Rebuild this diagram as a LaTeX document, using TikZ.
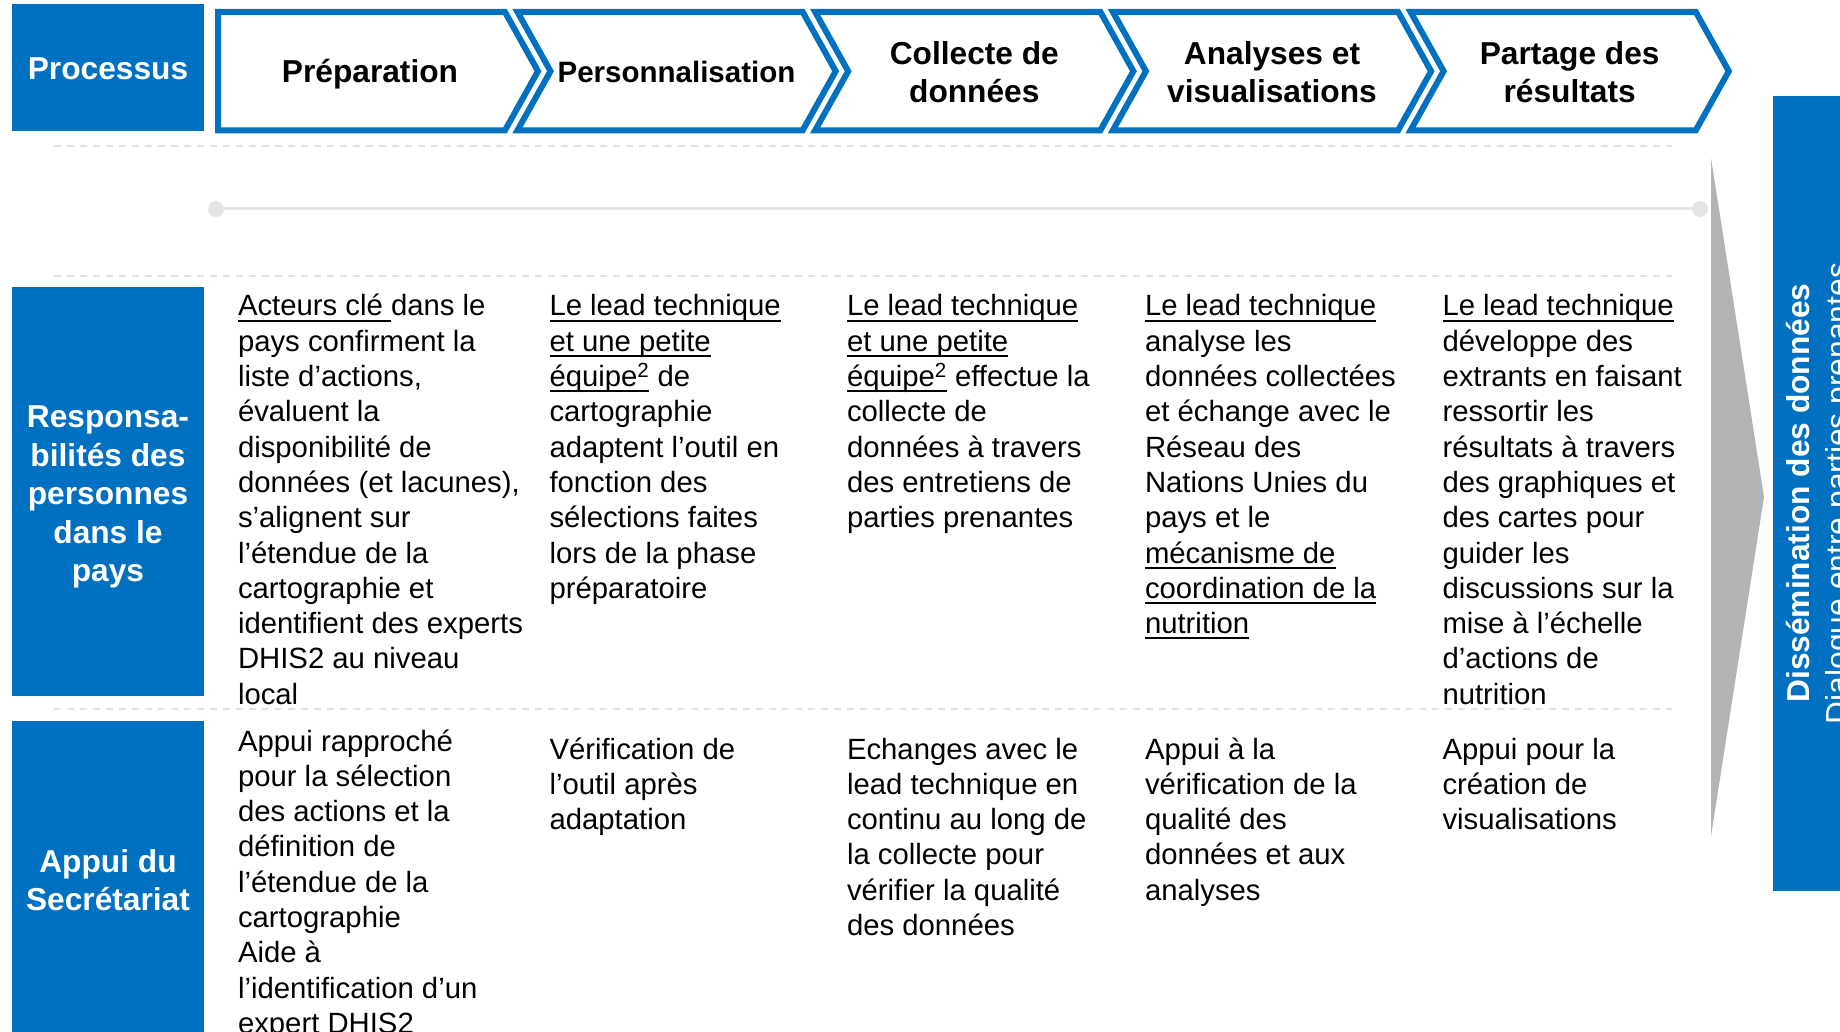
\documentclass[tikz,border=0pt]{standalone}
\usepackage{fontspec}
\setmainfont{Liberation Sans}[Ligatures={TeX,NoCommon}]
\newcommand{\myul}[1]{\leavevmode{\setbox0=\hbox{#1}\rlap{\rule[-5.6pt]{\wd0}{1.8pt}}\box0}}
\definecolor{unblue}{HTML}{0070C0}
\definecolor{sepgray}{HTML}{E2E2E2}
\definecolor{tlgray}{HTML}{E4E4E4}
\definecolor{arrgray}{HTML}{B3B3B3}
\newcommand{\coltext}[1]{\parbox[t]{330pt}{\fontsize{29.3}{35.3}\selectfont\raggedright #1}}
\tikzset{
  labbox/.style={fill=unblue, draw=none, inner sep=0pt, minimum width=192pt},
  labtext/.style={text=white, font=\fontsize{31.7}{38.5}\selectfont\bfseries, align=center, inner sep=0pt},
  chevshape/.style={draw=unblue, line width=6pt, fill=white, miter limit=10},
  chevtext/.style={text=black, font=\fontsize{31.7}{37.7}\selectfont\bfseries, align=center, inner sep=0pt},
  bodytext/.style={anchor=base west, inner sep=0pt, outer sep=0pt, text=black},
  sepline/.style={draw=sepgray, line width=2.3pt, dash pattern=on 7pt off 6pt},
  tldot/.style={circle, fill=tlgray, minimum size=16pt, inner sep=0pt},
  tlline/.style={draw=tlgray, line width=3pt},
  bannertext/.style={rotate=90, anchor=base, text=white, inner sep=0pt},
}
\begin{document}
\begin{tikzpicture}[x=1pt,y=-1pt]
\useasboundingbox (0,0) rectangle (1840,1032);
\clip (0,0) rectangle (1840,1032);

% dashed separators
\draw[sepline] (54,146) -- (1672,146);
\draw[sepline] (54,276) -- (1672,276);
\draw[sepline] (54,709) -- (1672,709);

% timeline
\node[tldot] (t0) at (216,209) {};
\node[tldot] (t1) at (1700,209) {};
\draw[tlline] (t0) -- (t1);

% gray arrow
\fill[arrgray] (1711,158) -- (1764,497) -- (1711,836) -- cycle;

% right banner
\node[fill=unblue, inner sep=0pt, minimum width=90pt, minimum height=795pt, anchor=north west] (banner) at (1773,96) {};
\node[bannertext, font=\fontsize{31.7}{38}\selectfont\bfseries] (dissem) at (1809.5,493) {Dissémination des données};
\node[bannertext, font=\fontsize{31.8}{38}\selectfont] (dialog) at (1848,493.5) {Dialogue entre parties prenantes};

% chevrons
\draw[chevshape] (218,12) -- (505,12) -- (538,71.2) -- (505,130.3) -- (218,130.3) -- cycle;
\foreach \k in {1,2,3,4}{
  \pgfmathsetmacro{\a}{517.5+(\k-1)*297.7}
  \pgfmathsetmacro{\b}{505+\k*297.7}
  \draw[chevshape] (\a,12) -- (\b,12) -- (\b+33,71.2) -- (\b,130.3) -- (\a,130.3) -- (\a+33,71.2) -- cycle;
}
\node[chevtext, anchor=base] (c1) at (370,82.7) {Préparation};
\node[chevtext, anchor=base, font=\fontsize{29.5}{37.7}\selectfont\bfseries] (c2) at (676.5,82.7) {Personnalisation};
\node[chevtext] (c3) at (974.3,72.2) {Collecte de\\données};
\node[chevtext] (c4) at (1272,72.2) {Analyses et\\visualisations};
\node[chevtext] (c5) at (1569.7,72.2) {Partage des\\résultats};

% left label boxes
\node[labbox, minimum height=127pt] (procbox) at (108,67.5) {};
\node[labtext] (proctxt) at (108,69.2) {Processus};
\node[labbox, minimum height=409pt] (respbox) at (108,491.5) {};
\node[labtext] (resptxt) at (108,497) {Responsa-\\bilités des\\personnes\\dans le\\pays};
\node[labbox, minimum height=319pt] (appuibox) at (108,880.5) {};
\node[labtext] (appuitxt) at (108,880) {Appui du\\Secrétariat};

% row 2 texts
\node[bodytext] (r2c1) at (238,316) {\coltext{\myul{Acteurs clé }dans le\\
pays confirment la\\
liste d’actions,\\
évaluent la\\
disponibilité de\\
données (et lacunes),\\
s’alignent sur\\
l’étendue de la\\
cartographie et\\
identifient des experts\\
DHIS2 au niveau\\
local}};
\node[bodytext] (r2c2) at (549.5,316) {\coltext{\myul{Le lead technique}\\
\myul{et une petite}\\
\myul{équipe\textsuperscript{2}} de\\
cartographie\\
adaptent l’outil en\\
fonction des\\
sélections faites\\
lors de la phase\\
préparatoire}};
\node[bodytext] (r2c3) at (847,316) {\coltext{\myul{Le lead technique}\\
\myul{et une petite}\\
\myul{équipe\textsuperscript{2}} effectue la\\
collecte de\\
données à travers\\
des entretiens de\\
parties prenantes}};
\node[bodytext] (r2c4) at (1145,316) {\coltext{\myul{Le lead technique}\\
analyse les\\
données collectées\\
et échange avec le\\
Réseau des\\
Nations Unies du\\
pays et le\\
\myul{mécanisme de}\\
\myul{coordination de la}\\
\myul{nutrition}}};
\node[bodytext] (r2c5) at (1442.5,316) {\coltext{\myul{Le lead technique}\\
développe des\\
extrants en faisant\\
ressortir les\\
résultats à travers\\
des graphiques et\\
des cartes pour\\
guider les\\
discussions sur la\\
mise à l’échelle\\
d’actions de\\
nutrition}};

% row 3 texts
\node[bodytext] (r3c1) at (238,751) {\coltext{Appui rapproché\\
pour la sélection\\
des actions et la\\
définition de\\
l’étendue de la\\
cartographie\\
Aide à\\
l’identification d’un\\
expert DHIS2}};
\node[bodytext] (r3c2) at (549.5,759) {\coltext{Vérification de\\
l’outil après\\
adaptation}};
\node[bodytext] (r3c3) at (847,759) {\coltext{Echanges avec le\\
lead technique en\\
continu au long de\\
la collecte pour\\
vérifier la qualité\\
des données}};
\node[bodytext] (r3c4) at (1145,759) {\coltext{Appui à la\\
vérification de la\\
qualité des\\
données et aux\\
analyses}};
\node[bodytext] (r3c5) at (1442.5,759) {\coltext{Appui pour la\\
création de\\
visualisations}};
\end{tikzpicture}
\end{document}
